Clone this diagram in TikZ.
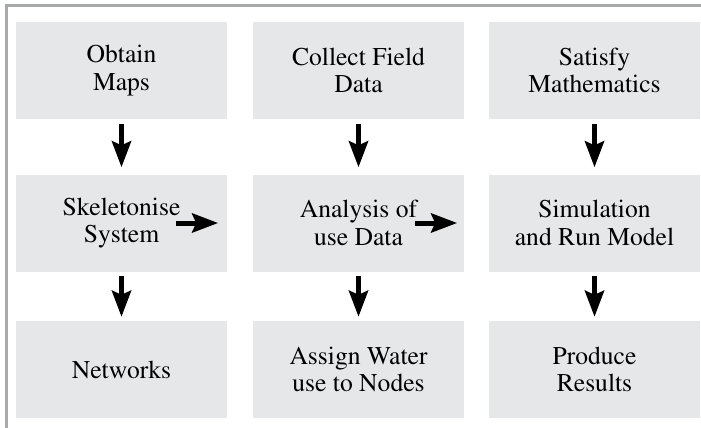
\documentclass[tikz,border=0pt]{standalone}
\usepackage[T1]{fontenc}
\usepackage{mathptmx}
\usetikzlibrary{arrows.meta}
\definecolor{boxgray}{HTML}{E6E7E8}
\definecolor{framegray}{HTML}{A7A9AC}

\begin{document}
\begin{tikzpicture}[
    x=1pt, y=-1pt,
    % Estilo de las cajas y de las flechas
    stage/.style={fill=boxgray, minimum width=211pt, minimum height=97pt, inner sep=0pt,
                  align=center, font=\rmfamily\fontsize{25.6}{27.5}\selectfont},
    flow/.style={-{Stealth[length=26pt, width=19pt, inset=4pt]}, line width=5pt}
  ]
  \useasboundingbox (0,0) rectangle (701,428);

  % Marco gris (izquierda y arriba)
  \draw[framegray, line width=3pt] (6.5,428) -- (6.5,6) -- (701,6);

  % 1. Primera fila
  \node[stage] (maps)  at (121.5, 70.5) {Obtain\\Maps};
  \node[stage] (field) at (358.5, 70.5) {Collect Field\\Data};
  \node[stage] (maths) at (594.5, 70.5) {Satisfy\\Mathematics};

  % 2. Segunda fila
  \node[stage] (skel)  at (121.5, 223) {Skeletonise\\System};
  \node[stage] (use)   at (358.5, 223) {Analysis of\\use Data};
  \node[stage] (sim)   at (594.5, 223) {Simulation\\and Run Model};

  % 3. Tercera fila
  \node[stage] (net)   at (121.5, 369.5) {Networks};
  \node[stage] (nodes) at (358.5, 369.5) {Assign Water\\use to Nodes};
  \node[stage] (res)   at (594.5, 369.5) {Produce\\Results};

  % Flechas verticales
  \draw[flow, shorten <=5pt, shorten >=7pt] (maps) -- (skel);
  \draw[flow, shorten <=5pt, shorten >=7pt] (field) -- (use);
  \draw[flow, shorten <=5pt, shorten >=7pt] (maths) -- (sim);
  \draw[flow, shorten <=4pt, shorten >=4pt] (skel) -- (net);
  \draw[flow, shorten <=4pt, shorten >=4pt] (use) -- (nodes);
  \draw[flow, shorten <=4pt, shorten >=4pt] (sim) -- (res);

  % Flechas horizontales (dentro de las cajas)
  \draw[flow] ([xshift=-51pt]skel.east) -- ([xshift=-9pt]skel.east);
  \draw[flow] ([xshift=-49pt]use.east) -- ([xshift=-7pt]use.east);

\end{tikzpicture}
\end{document}
